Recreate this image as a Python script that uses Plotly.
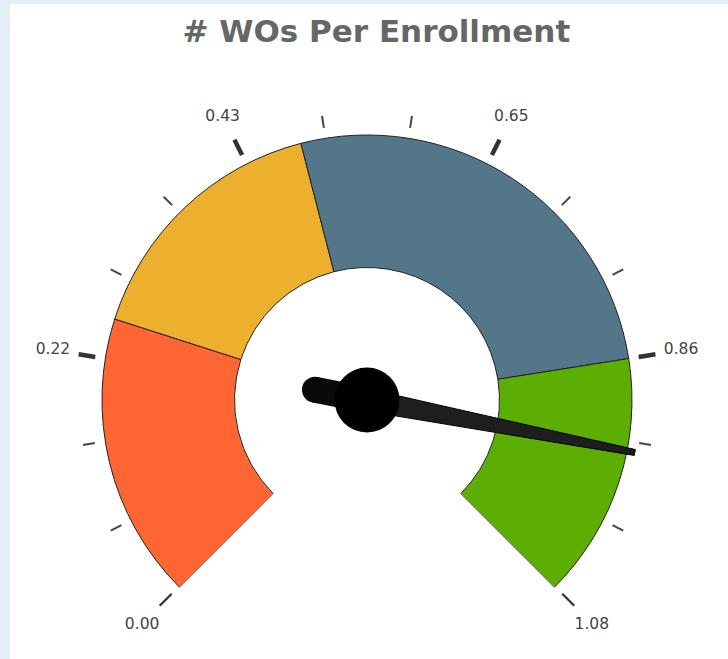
import math
import plotly.graph_objects as go

# ---------------- data ----------------
TITLE = "# WOs Per Enrollment"
GAUGE_MIN = 0.0
GAUGE_MAX = 1.075
BAND_STARTS = [0.0, 0.25, 0.48, 0.86]
BAND_ENDS = [0.25, 0.48, 0.86, 1.075]
BAND_COLORS = ["#FF6634", "#ECAF2E", "#537689", "#5DAE02"]
MAJOR_TICKS = [0.0, 0.215, 0.43, 0.645, 0.86, 1.075]
MAJOR_LABELS = ["0.00", "0.22", "0.43", "0.65", "0.86", "1.08"]
MINOR_PER_MAJOR = 3
NEEDLE_VALUE = 0.94

# ---------------- helpers ----------------
SWEEP = 270.0
DEG = SWEEP / (GAUGE_MAX - GAUGE_MIN)   # angular-axis degrees per unit value


def th(v):
    return (v - GAUGE_MIN) * DEG


R_IN, R_OUT = 0.5, 1.0
PX = 265.0  # pixels per radial unit (approx, for needle widths)

fig = go.Figure()

# bands
for s, e, c in zip(BAND_STARTS, BAND_ENDS, BAND_COLORS):
    fig.add_trace(go.Barpolar(
        r=[R_OUT - R_IN], base=[R_IN], theta=[th((s + e) / 2)], width=[th(e) - th(s)],
        marker=dict(color=c, line=dict(color="#222", width=1)),
        hoverinfo="skip", showlegend=False))

# ticks
minor = []
for a, b in zip(MAJOR_TICKS[:-1], MAJOR_TICKS[1:]):
    for k in range(1, MINOR_PER_MAJOR):
        minor.append(a + (b - a) * k / MINOR_PER_MAJOR)


def seg(vals, r0, r1):
    rr, tt = [], []
    for v in vals:
        rr += [r0, r1, None]
        tt += [th(v), th(v), None]
    return rr, tt


rr, tt = seg(MAJOR_TICKS, 1.038, 1.102)
fig.add_trace(go.Scatterpolar(r=rr, theta=tt, mode="lines", line=dict(color="#333", width=4.5),
                              hoverinfo="skip", showlegend=False, cliponaxis=False))
rr, tt = seg(minor, 1.04, 1.085)
fig.add_trace(go.Scatterpolar(r=rr, theta=tt, mode="lines", line=dict(color="#444", width=2),
                              hoverinfo="skip", showlegend=False, cliponaxis=False))

# tick labels
fig.add_trace(go.Scatterpolar(
    r=[1.2] * len(MAJOR_TICKS), theta=[th(v) for v in MAJOR_TICKS], mode="text",
    text=MAJOR_LABELS, textfont=dict(family="DejaVu Sans", size=15.5, color="#444"),
    hoverinfo="skip", showlegend=False, cliponaxis=False))

# needle
tn = th(NEEDLE_VALUE)
tail_r = 0.2
fig.add_trace(go.Scatterpolar(
    r=[0, tail_r], theta=[tn, tn + 180], mode="lines",
    line=dict(color="#0a0a0a", width=26),
    hoverinfo="skip", showlegend=False, cliponaxis=False))
fig.add_trace(go.Scatterpolar(
    r=[tail_r], theta=[tn + 180], mode="markers",
    marker=dict(size=26, color="#0a0a0a", opacity=1, line=dict(width=0)),
    hoverinfo="skip", showlegend=False, cliponaxis=False))

tip_r = 1.03
tip_half = 3.0 / PX
base_half = 11.0 / PX
dtip = math.degrees(math.atan(tip_half / tip_r))
fig.add_trace(go.Scatterpolar(
    r=[base_half, tip_r, tip_r, base_half, base_half],
    theta=[tn - 90, tn - dtip, tn + dtip, tn + 90, tn - 90],
    mode="lines", fill="toself", fillcolor="#1e1e1e",
    line=dict(color="#000", width=1),
    hoverinfo="skip", showlegend=False, cliponaxis=False))

# hub
fig.add_trace(go.Scatterpolar(
    r=[0], theta=[0], mode="markers",
    marker=dict(size=65, color="#000", opacity=1, line=dict(width=0)),
    hoverinfo="skip", showlegend=False, cliponaxis=False))

# ---------------- layout ----------------
RMAX = 1.25
fig.update_layout(
    width=728, height=659,
    margin=dict(l=0, r=0, t=0, b=0),
    paper_bgcolor="white",
    title=dict(text="<b>" + TITLE + "</b>", x=0.517, xanchor="center", y=0.953, yanchor="middle",
               font=dict(family="DejaVu Sans", size=31, color="#666")),
    polar=dict(
        domain=dict(x=[0.0491, 0.9591], y=[0.0376, 0.8957]),
        sector=[-45, 225],
        bgcolor="white",
        radialaxis=dict(visible=False, range=[0, RMAX]),
        angularaxis=dict(visible=False, rotation=225, direction="clockwise", thetaunit="degrees"),
    ),
    shapes=[
        dict(type="rect", xref="paper", yref="paper", x0=0, x1=10 / 728, y0=0, y1=1,
             fillcolor="#e3eef5", line=dict(width=0), layer="below"),
        dict(type="rect", xref="paper", yref="paper", x0=0, x1=1, y0=1 - 4 / 659, y1=1,
             fillcolor="#e3eef5", line=dict(width=0), layer="below"),
    ],
)

fig.write_html("out.html", config={"displayModeBar": False},
               post_script="document.body.style.margin='0';document.body.style.overflow='hidden';")
